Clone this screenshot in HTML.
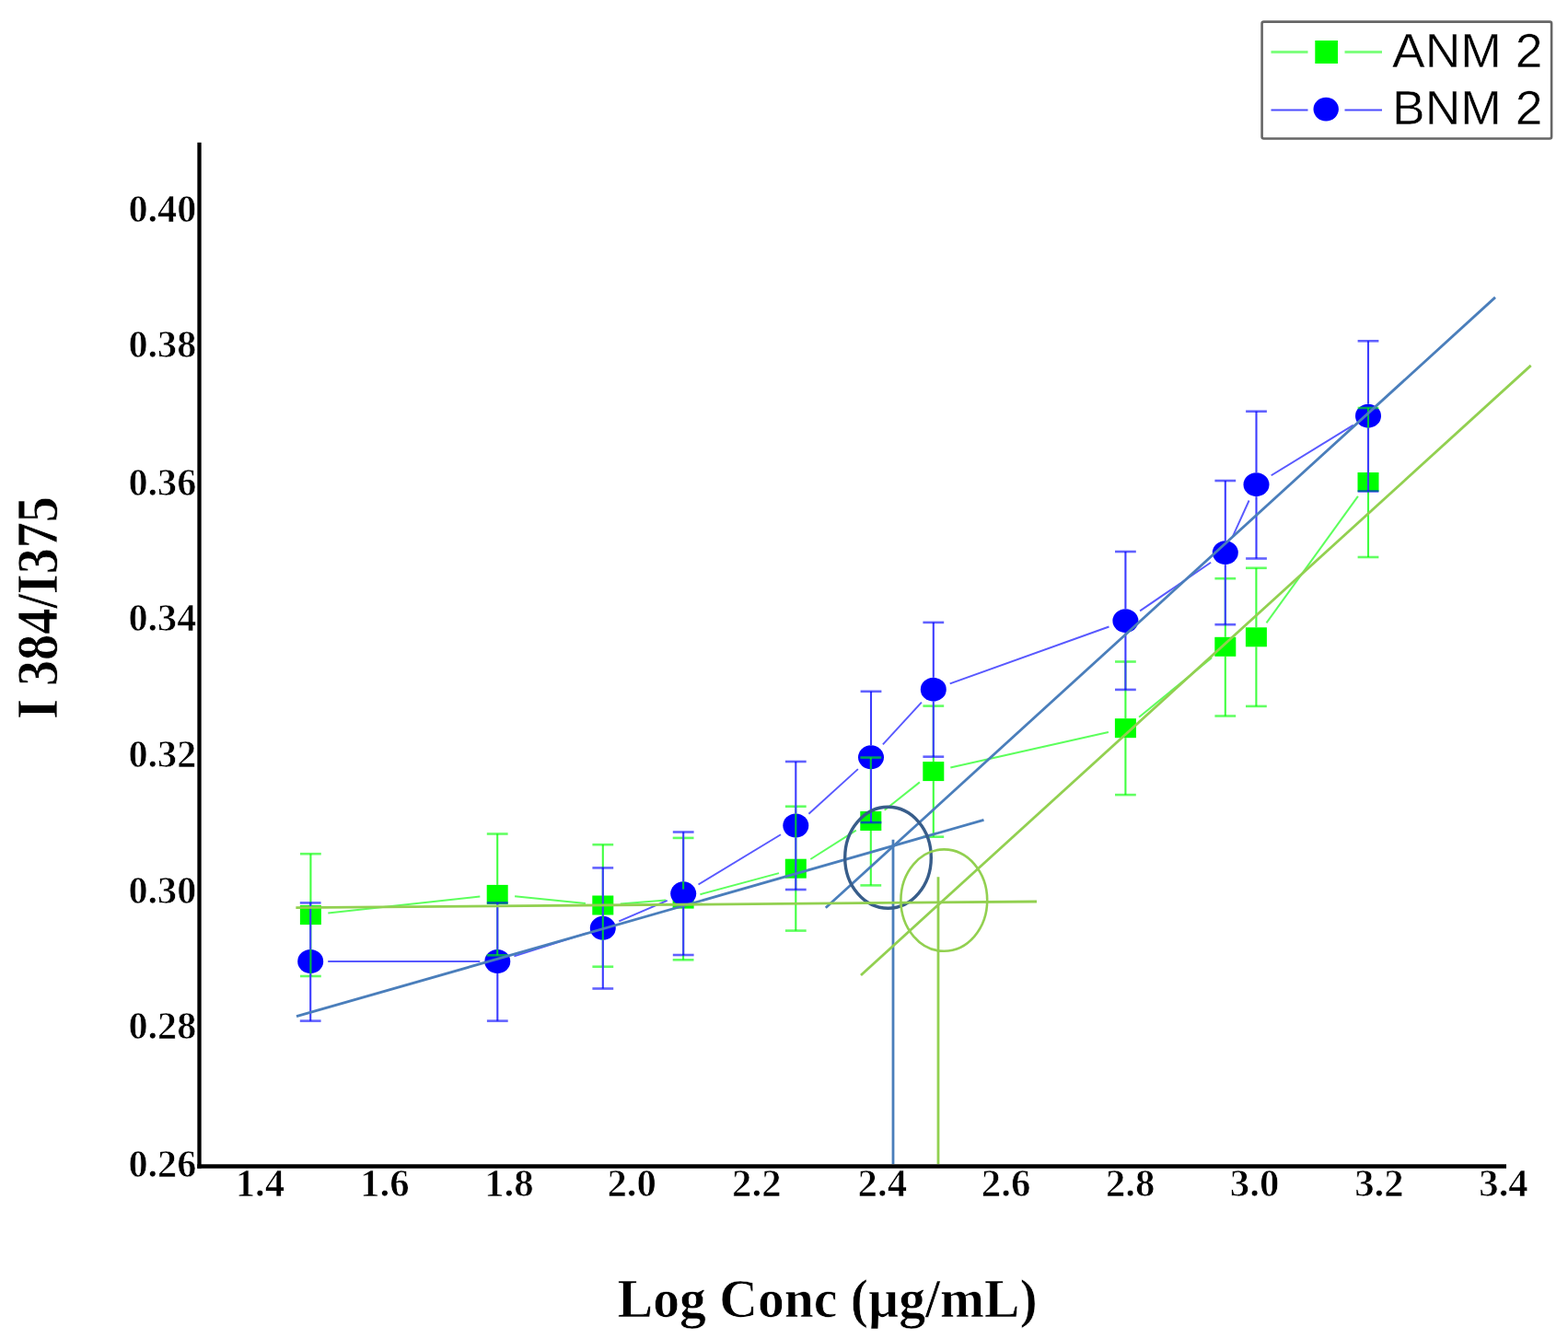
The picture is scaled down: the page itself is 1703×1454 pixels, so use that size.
<!DOCTYPE html>
<html><head><meta charset="utf-8"><title>Chart</title>
<style>html,body{margin:0;padding:0;background:#fff;}svg{display:block;}</style></head>
<body>
<svg width="1703" height="1454" viewBox="0 0 1703 1454">
<rect width="1703" height="1454" fill="#fff"/>
<line x1="356.3" y1="991.5" x2="521.3" y2="973.5" stroke="#5cff5c" stroke-opacity="1" stroke-width="2"/>
<line x1="559.1" y1="973.3" x2="635.9" y2="981.1" stroke="#5cff5c" stroke-opacity="1" stroke-width="2"/>
<line x1="673.7" y1="981.5" x2="723.2" y2="977.6" stroke="#5cff5c" stroke-opacity="1" stroke-width="2"/>
<line x1="760.4" y1="971.2" x2="846" y2="948.1" stroke="#5cff5c" stroke-opacity="1" stroke-width="2"/>
<line x1="880.3" y1="933" x2="929.8" y2="901.7" stroke="#5cff5c" stroke-opacity="1" stroke-width="2"/>
<line x1="960.7" y1="879.7" x2="998.9" y2="849.4" stroke="#5cff5c" stroke-opacity="1" stroke-width="2"/>
<line x1="1032.3" y1="833.4" x2="1203.9" y2="794.9" stroke="#5cff5c" stroke-opacity="1" stroke-width="2"/>
<line x1="1237.1" y1="778.7" x2="1316.1" y2="714.3" stroke="#5cff5c" stroke-opacity="1" stroke-width="2"/>
<line x1="1375.5" y1="676.4" x2="1474.9" y2="538.9" stroke="#5cff5c" stroke-opacity="1" stroke-width="2"/>
<line x1="356.2" y1="1044" x2="521.3" y2="1044" stroke="#5858ff" stroke-opacity="1" stroke-width="1.9"/>
<line x1="558.4" y1="1038.3" x2="636.7" y2="1013.5" stroke="#5858ff" stroke-opacity="1" stroke-width="1.9"/>
<line x1="672.3" y1="1000.3" x2="724.7" y2="977.8" stroke="#5858ff" stroke-opacity="1" stroke-width="1.9"/>
<line x1="758.5" y1="960.5" x2="848" y2="906.3" stroke="#5858ff" stroke-opacity="1" stroke-width="1.9"/>
<line x1="878.4" y1="883.7" x2="931.9" y2="835.1" stroke="#5858ff" stroke-opacity="1" stroke-width="1.9"/>
<line x1="958.9" y1="808.3" x2="1000.9" y2="762.7" stroke="#5858ff" stroke-opacity="1" stroke-width="1.9"/>
<line x1="1031.7" y1="742.3" x2="1204.5" y2="680.5" stroke="#5858ff" stroke-opacity="1" stroke-width="1.9"/>
<line x1="1238.1" y1="663.4" x2="1315.1" y2="610.8" stroke="#5858ff" stroke-opacity="1" stroke-width="1.9"/>
<line x1="1338.7" y1="582.8" x2="1356.6" y2="543.5" stroke="#5858ff" stroke-opacity="1" stroke-width="1.9"/>
<line x1="1380.7" y1="516.3" x2="1469.8" y2="461.6" stroke="#5858ff" stroke-opacity="1" stroke-width="1.9"/>
<rect x="325.9" y="983.1" width="23.0" height="21.0" fill="#00ff00"/>
<rect x="528.7" y="960.9" width="23.0" height="21.0" fill="#00ff00"/>
<rect x="643.3" y="972.5" width="23.0" height="21.0" fill="#00ff00"/>
<rect x="730.6" y="965.6" width="23.0" height="21.0" fill="#00ff00"/>
<rect x="852.8" y="932.7" width="23.0" height="21.0" fill="#00ff00"/>
<rect x="934.3" y="881" width="23.0" height="21.0" fill="#00ff00"/>
<rect x="1002.3" y="827.1" width="23.0" height="21.0" fill="#00ff00"/>
<rect x="1210.9" y="780.2" width="23.0" height="21.0" fill="#00ff00"/>
<rect x="1319.3" y="691.8" width="23.0" height="21.0" fill="#00ff00"/>
<rect x="1352.9" y="681.3" width="23.0" height="21.0" fill="#00ff00"/>
<rect x="1474.5" y="513" width="23.0" height="21.0" fill="#00ff00"/>
<ellipse cx="337.2" cy="1044" rx="14.0" ry="12.95" fill="#0000ff"/>
<ellipse cx="540.3" cy="1044" rx="14.0" ry="12.95" fill="#0000ff"/>
<ellipse cx="654.8" cy="1007.8" rx="14.0" ry="12.95" fill="#0000ff"/>
<ellipse cx="742.2" cy="970.3" rx="14.0" ry="12.95" fill="#0000ff"/>
<ellipse cx="864.3" cy="896.5" rx="14.0" ry="12.95" fill="#0000ff"/>
<ellipse cx="946" cy="822.3" rx="14.0" ry="12.95" fill="#0000ff"/>
<ellipse cx="1013.8" cy="748.7" rx="14.0" ry="12.95" fill="#0000ff"/>
<ellipse cx="1222.4" cy="674.1" rx="14.0" ry="12.95" fill="#0000ff"/>
<ellipse cx="1330.8" cy="600.1" rx="14.0" ry="12.95" fill="#0000ff"/>
<ellipse cx="1364.5" cy="526.2" rx="14.0" ry="12.95" fill="#0000ff"/>
<ellipse cx="1486" cy="451.7" rx="14.0" ry="12.95" fill="#0000ff"/>
<line x1="337.4" y1="927.2" x2="337.4" y2="983.1" stroke="#00ff00" stroke-opacity="0.75" stroke-width="2.1"/>
<line x1="337.4" y1="1004.1" x2="337.4" y2="1060" stroke="#00ff00" stroke-opacity="0.75" stroke-width="2.1"/>
<line x1="326" y1="927.2" x2="348.8" y2="927.2" stroke="#00ff00" stroke-opacity=".62" stroke-width="2.6"/>
<line x1="326" y1="1060" x2="348.8" y2="1060" stroke="#00ff00" stroke-opacity=".62" stroke-width="2.6"/>
<line x1="540.2" y1="905.5" x2="540.2" y2="960.9" stroke="#00ff00" stroke-opacity="0.75" stroke-width="2.1"/>
<line x1="540.2" y1="981.9" x2="540.2" y2="1037.3" stroke="#00ff00" stroke-opacity="0.75" stroke-width="2.1"/>
<line x1="528.8" y1="905.5" x2="551.6" y2="905.5" stroke="#00ff00" stroke-opacity=".62" stroke-width="2.6"/>
<line x1="528.8" y1="1037.3" x2="551.6" y2="1037.3" stroke="#00ff00" stroke-opacity=".62" stroke-width="2.6"/>
<line x1="654.8" y1="917.2" x2="654.8" y2="972.5" stroke="#00ff00" stroke-opacity="0.75" stroke-width="2.1"/>
<line x1="654.8" y1="993.5" x2="654.8" y2="1049.7" stroke="#00ff00" stroke-opacity="0.75" stroke-width="2.1"/>
<line x1="643.4" y1="917.2" x2="666.2" y2="917.2" stroke="#00ff00" stroke-opacity=".62" stroke-width="2.6"/>
<line x1="643.4" y1="1049.7" x2="666.2" y2="1049.7" stroke="#00ff00" stroke-opacity=".62" stroke-width="2.6"/>
<line x1="742.1" y1="909.9" x2="742.1" y2="965.6" stroke="#00ff00" stroke-opacity="0.75" stroke-width="2.1"/>
<line x1="742.1" y1="986.6" x2="742.1" y2="1042.3" stroke="#00ff00" stroke-opacity="0.75" stroke-width="2.1"/>
<line x1="730.7" y1="909.9" x2="753.5" y2="909.9" stroke="#00ff00" stroke-opacity=".62" stroke-width="2.6"/>
<line x1="730.7" y1="1042.3" x2="753.5" y2="1042.3" stroke="#00ff00" stroke-opacity=".62" stroke-width="2.6"/>
<line x1="864.3" y1="875.7" x2="864.3" y2="932.7" stroke="#00ff00" stroke-opacity="0.75" stroke-width="2.1"/>
<line x1="864.3" y1="953.7" x2="864.3" y2="1010.6" stroke="#00ff00" stroke-opacity="0.75" stroke-width="2.1"/>
<line x1="852.9" y1="875.7" x2="875.7" y2="875.7" stroke="#00ff00" stroke-opacity=".62" stroke-width="2.6"/>
<line x1="852.9" y1="1010.6" x2="875.7" y2="1010.6" stroke="#00ff00" stroke-opacity=".62" stroke-width="2.6"/>
<line x1="945.8" y1="822.6" x2="945.8" y2="881" stroke="#00ff00" stroke-opacity="0.75" stroke-width="2.1"/>
<line x1="945.8" y1="902" x2="945.8" y2="961.4" stroke="#00ff00" stroke-opacity="0.75" stroke-width="2.1"/>
<line x1="934.4" y1="822.6" x2="957.2" y2="822.6" stroke="#00ff00" stroke-opacity=".62" stroke-width="2.6"/>
<line x1="934.4" y1="961.4" x2="957.2" y2="961.4" stroke="#00ff00" stroke-opacity=".62" stroke-width="2.6"/>
<line x1="1013.8" y1="766.6" x2="1013.8" y2="827.1" stroke="#00ff00" stroke-opacity="0.75" stroke-width="2.1"/>
<line x1="1013.8" y1="848.1" x2="1013.8" y2="908.7" stroke="#00ff00" stroke-opacity="0.75" stroke-width="2.1"/>
<line x1="1002.4" y1="766.6" x2="1025.2" y2="766.6" stroke="#00ff00" stroke-opacity=".62" stroke-width="2.6"/>
<line x1="1002.4" y1="908.7" x2="1025.2" y2="908.7" stroke="#00ff00" stroke-opacity=".62" stroke-width="2.6"/>
<line x1="1222.4" y1="718.5" x2="1222.4" y2="780.2" stroke="#00ff00" stroke-opacity="0.75" stroke-width="2.1"/>
<line x1="1222.4" y1="801.2" x2="1222.4" y2="863.1" stroke="#00ff00" stroke-opacity="0.75" stroke-width="2.1"/>
<line x1="1211" y1="718.5" x2="1233.8" y2="718.5" stroke="#00ff00" stroke-opacity=".62" stroke-width="2.6"/>
<line x1="1211" y1="863.1" x2="1233.8" y2="863.1" stroke="#00ff00" stroke-opacity=".62" stroke-width="2.6"/>
<line x1="1330.8" y1="628.2" x2="1330.8" y2="691.8" stroke="#00ff00" stroke-opacity="0.75" stroke-width="2.1"/>
<line x1="1330.8" y1="712.8" x2="1330.8" y2="777.5" stroke="#00ff00" stroke-opacity="0.75" stroke-width="2.1"/>
<line x1="1319.4" y1="628.2" x2="1342.2" y2="628.2" stroke="#00ff00" stroke-opacity=".62" stroke-width="2.6"/>
<line x1="1319.4" y1="777.5" x2="1342.2" y2="777.5" stroke="#00ff00" stroke-opacity=".62" stroke-width="2.6"/>
<line x1="1364.4" y1="616.8" x2="1364.4" y2="681.3" stroke="#00ff00" stroke-opacity="0.75" stroke-width="2.1"/>
<line x1="1364.4" y1="702.3" x2="1364.4" y2="766.9" stroke="#00ff00" stroke-opacity="0.75" stroke-width="2.1"/>
<line x1="1353" y1="616.8" x2="1375.8" y2="616.8" stroke="#00ff00" stroke-opacity=".62" stroke-width="2.6"/>
<line x1="1353" y1="766.9" x2="1375.8" y2="766.9" stroke="#00ff00" stroke-opacity=".62" stroke-width="2.6"/>
<line x1="1486" y1="443" x2="1486" y2="513" stroke="#00ff00" stroke-opacity="0.75" stroke-width="2.1"/>
<line x1="1486" y1="534" x2="1486" y2="605" stroke="#00ff00" stroke-opacity="0.75" stroke-width="2.1"/>
<line x1="1474.6" y1="443" x2="1497.4" y2="443" stroke="#00ff00" stroke-opacity=".62" stroke-width="2.6"/>
<line x1="1474.6" y1="605" x2="1497.4" y2="605" stroke="#00ff00" stroke-opacity=".62" stroke-width="2.6"/>
<line x1="337.2" y1="980.4" x2="337.2" y2="1031" stroke="#3c3cff" stroke-opacity="1" stroke-width="2.1"/>
<line x1="337.2" y1="1057" x2="337.2" y2="1108.6" stroke="#3c3cff" stroke-opacity="1" stroke-width="2.1"/>
<line x1="325.8" y1="980.4" x2="348.6" y2="980.4" stroke="#0000ff" stroke-opacity=".62" stroke-width="2.6"/>
<line x1="325.8" y1="1108.6" x2="348.6" y2="1108.6" stroke="#0000ff" stroke-opacity=".62" stroke-width="2.6"/>
<line x1="540.3" y1="980.4" x2="540.3" y2="1031" stroke="#3c3cff" stroke-opacity="1" stroke-width="2.1"/>
<line x1="540.3" y1="1057" x2="540.3" y2="1108.6" stroke="#3c3cff" stroke-opacity="1" stroke-width="2.1"/>
<line x1="528.9" y1="980.4" x2="551.7" y2="980.4" stroke="#0000ff" stroke-opacity=".62" stroke-width="2.6"/>
<line x1="528.9" y1="1108.6" x2="551.7" y2="1108.6" stroke="#0000ff" stroke-opacity=".62" stroke-width="2.6"/>
<line x1="654.8" y1="942.4" x2="654.8" y2="994.8" stroke="#3c3cff" stroke-opacity="1" stroke-width="2.1"/>
<line x1="654.8" y1="1020.8" x2="654.8" y2="1073.5" stroke="#3c3cff" stroke-opacity="1" stroke-width="2.1"/>
<line x1="643.4" y1="942.4" x2="666.2" y2="942.4" stroke="#0000ff" stroke-opacity=".62" stroke-width="2.6"/>
<line x1="643.4" y1="1073.5" x2="666.2" y2="1073.5" stroke="#0000ff" stroke-opacity=".62" stroke-width="2.6"/>
<line x1="742.2" y1="903.5" x2="742.2" y2="957.3" stroke="#3c3cff" stroke-opacity="1" stroke-width="2.1"/>
<line x1="742.2" y1="983.2" x2="742.2" y2="1037" stroke="#3c3cff" stroke-opacity="1" stroke-width="2.1"/>
<line x1="730.8" y1="903.5" x2="753.6" y2="903.5" stroke="#0000ff" stroke-opacity=".62" stroke-width="2.6"/>
<line x1="730.8" y1="1037" x2="753.6" y2="1037" stroke="#0000ff" stroke-opacity=".62" stroke-width="2.6"/>
<line x1="864.3" y1="827" x2="864.3" y2="883.5" stroke="#3c3cff" stroke-opacity="1" stroke-width="2.1"/>
<line x1="864.3" y1="909.5" x2="864.3" y2="966" stroke="#3c3cff" stroke-opacity="1" stroke-width="2.1"/>
<line x1="852.9" y1="827" x2="875.7" y2="827" stroke="#0000ff" stroke-opacity=".62" stroke-width="2.6"/>
<line x1="852.9" y1="966" x2="875.7" y2="966" stroke="#0000ff" stroke-opacity=".62" stroke-width="2.6"/>
<line x1="946" y1="750.8" x2="946" y2="809.3" stroke="#3c3cff" stroke-opacity="1" stroke-width="2.1"/>
<line x1="946" y1="835.2" x2="946" y2="893.1" stroke="#3c3cff" stroke-opacity="1" stroke-width="2.1"/>
<line x1="934.6" y1="750.8" x2="957.4" y2="750.8" stroke="#0000ff" stroke-opacity=".62" stroke-width="2.6"/>
<line x1="934.6" y1="893.1" x2="957.4" y2="893.1" stroke="#0000ff" stroke-opacity=".62" stroke-width="2.6"/>
<line x1="1013.8" y1="675.9" x2="1013.8" y2="735.8" stroke="#3c3cff" stroke-opacity="1" stroke-width="2.1"/>
<line x1="1013.8" y1="761.7" x2="1013.8" y2="821.7" stroke="#3c3cff" stroke-opacity="1" stroke-width="2.1"/>
<line x1="1002.4" y1="675.9" x2="1025.2" y2="675.9" stroke="#0000ff" stroke-opacity=".62" stroke-width="2.6"/>
<line x1="1002.4" y1="821.7" x2="1025.2" y2="821.7" stroke="#0000ff" stroke-opacity=".62" stroke-width="2.6"/>
<line x1="1222.4" y1="599" x2="1222.4" y2="661.1" stroke="#3c3cff" stroke-opacity="1" stroke-width="2.1"/>
<line x1="1222.4" y1="687.1" x2="1222.4" y2="748.9" stroke="#3c3cff" stroke-opacity="1" stroke-width="2.1"/>
<line x1="1211" y1="599" x2="1233.8" y2="599" stroke="#0000ff" stroke-opacity=".62" stroke-width="2.6"/>
<line x1="1211" y1="748.9" x2="1233.8" y2="748.9" stroke="#0000ff" stroke-opacity=".62" stroke-width="2.6"/>
<line x1="1330.8" y1="522" x2="1330.8" y2="587.1" stroke="#3c3cff" stroke-opacity="1" stroke-width="2.1"/>
<line x1="1330.8" y1="613.1" x2="1330.8" y2="678.2" stroke="#3c3cff" stroke-opacity="1" stroke-width="2.1"/>
<line x1="1319.4" y1="522" x2="1342.2" y2="522" stroke="#0000ff" stroke-opacity=".62" stroke-width="2.6"/>
<line x1="1319.4" y1="678.2" x2="1342.2" y2="678.2" stroke="#0000ff" stroke-opacity=".62" stroke-width="2.6"/>
<line x1="1364.5" y1="446.7" x2="1364.5" y2="513.2" stroke="#3c3cff" stroke-opacity="1" stroke-width="2.1"/>
<line x1="1364.5" y1="539.2" x2="1364.5" y2="606.5" stroke="#3c3cff" stroke-opacity="1" stroke-width="2.1"/>
<line x1="1353.1" y1="446.7" x2="1375.9" y2="446.7" stroke="#0000ff" stroke-opacity=".62" stroke-width="2.6"/>
<line x1="1353.1" y1="606.5" x2="1375.9" y2="606.5" stroke="#0000ff" stroke-opacity=".62" stroke-width="2.6"/>
<line x1="1486" y1="370.3" x2="1486" y2="438.8" stroke="#3c3cff" stroke-opacity="1" stroke-width="2.1"/>
<line x1="1486" y1="464.6" x2="1486" y2="533.5" stroke="#3c3cff" stroke-opacity="1" stroke-width="2.1"/>
<line x1="1474.6" y1="370.3" x2="1497.4" y2="370.3" stroke="#0000ff" stroke-opacity=".62" stroke-width="2.6"/>
<line x1="1474.6" y1="533.5" x2="1497.4" y2="533.5" stroke="#0000ff" stroke-opacity=".62" stroke-width="2.6"/>
<g fill="none" stroke-linecap="butt">
<line x1="322" y1="1103.7" x2="1068.5" y2="890.4" stroke="#4a7ebb" stroke-width="2.8"/>
<line x1="896.8" y1="985.8" x2="1624" y2="322.9" stroke="#4a7ebb" stroke-width="2.8"/>
<line x1="970" y1="911.8" x2="970" y2="1264" stroke="#4a7ebb" stroke-width="2.8"/>
<ellipse cx="964.5" cy="931.3" rx="46.8" ry="55" stroke="#385d8a" stroke-width="3.4"/>
<line x1="321.4" y1="985.7" x2="1126" y2="979" stroke="#92d050" stroke-width="2.8"/>
<line x1="935" y1="1059" x2="1662.7" y2="396.9" stroke="#92d050" stroke-width="2.8"/>
<line x1="1019" y1="952.2" x2="1019" y2="1264" stroke="#92d050" stroke-width="2.8"/>
<ellipse cx="1025.3" cy="977.6" rx="46.9" ry="55.2" stroke="#92d050" stroke-width="2.6"/>
</g>
<g font-family="'Liberation Serif', serif" font-weight="bold" font-size="42" fill="#000" stroke="#fff" stroke-width="0.7">
<text transform="translate(213.3,241) scale(1.005,1)" text-anchor="end">0.40</text>
<text transform="translate(213.3,388.4) scale(1.005,1)" text-anchor="end">0.38</text>
<text transform="translate(213.3,537.9) scale(1.005,1)" text-anchor="end">0.36</text>
<text transform="translate(213.3,685.3) scale(1.005,1)" text-anchor="end">0.34</text>
<text transform="translate(213.3,833.4) scale(1.005,1)" text-anchor="end">0.32</text>
<text transform="translate(213.3,980.8) scale(1.005,1)" text-anchor="end">0.30</text>
<text transform="translate(213.3,1128.2) scale(1.005,1)" text-anchor="end">0.28</text>
<text transform="translate(213.3,1277.9) scale(1.005,1)" text-anchor="end">0.26</text>
<text transform="translate(282.4,1298.5) scale(1.02,1)" text-anchor="middle">1.4</text>
<text transform="translate(417.8,1298.5) scale(1.02,1)" text-anchor="middle">1.6</text>
<text transform="translate(552.9,1298.5) scale(1.02,1)" text-anchor="middle">1.8</text>
<text transform="translate(686.2,1298.5) scale(1.02,1)" text-anchor="middle">2.0</text>
<text transform="translate(821.8,1298.5) scale(1.02,1)" text-anchor="middle">2.2</text>
<text transform="translate(958.3,1298.5) scale(1.02,1)" text-anchor="middle">2.4</text>
<text transform="translate(1092.6,1298.5) scale(1.02,1)" text-anchor="middle">2.6</text>
<text transform="translate(1227.7,1298.5) scale(1.02,1)" text-anchor="middle">2.8</text>
<text transform="translate(1362.6,1298.5) scale(1.02,1)" text-anchor="middle">3.0</text>
<text transform="translate(1497.9,1298.5) scale(1.02,1)" text-anchor="middle">3.2</text>
<text transform="translate(1633,1298.5) scale(1.02,1)" text-anchor="middle">3.4</text>
</g>
<line x1="216.5" y1="154.7" x2="216.5" y2="1268.8" stroke="#000" stroke-width="4.3"/>
<line x1="214.3" y1="1266.4" x2="1636" y2="1266.4" stroke="#000" stroke-width="4.5"/>
<text transform="translate(898.7,1430) scale(0.964,1)" text-anchor="middle" font-family="'Liberation Serif', serif" font-weight="bold" font-size="59.8" stroke="#fff" stroke-width="0.7">Log Conc (µg/mL)</text>
<text transform="translate(62.2,660) rotate(-90) scale(0.90,1)" text-anchor="middle" font-family="'Liberation Serif', serif" font-weight="bold" font-size="62.4" stroke="#fff" stroke-width="0.7">I 384/I375</text>
<rect x="1370.6" y="23.6" width="314.5" height="126.9" rx="2" fill="#fff" stroke="#666" stroke-width="2.6"/>
<line x1="1380.5" y1="56.5" x2="1420.5" y2="56.5" stroke="#00ff00" stroke-opacity=".5" stroke-width="3"/>
<line x1="1460.5" y1="56.5" x2="1501" y2="56.5" stroke="#00ff00" stroke-opacity=".5" stroke-width="3"/>
<rect x="1428.3" y="44" width="24.7" height="25" fill="#00ff00"/>
<line x1="1380.5" y1="119.5" x2="1420.5" y2="119.5" stroke="#0000ff" stroke-opacity=".7" stroke-width="2"/>
<line x1="1460.5" y1="119.5" x2="1501" y2="119.5" stroke="#0000ff" stroke-opacity=".7" stroke-width="2"/>
<ellipse cx="1440.2" cy="118.6" rx="13.7" ry="12.9" fill="#0000ff"/>
<g font-family="'Liberation Sans', sans-serif" font-size="51.8" fill="#000" stroke="#fff" stroke-width="0.5">
<text transform="translate(1675.5,73.0) scale(1.033,1)" text-anchor="end">ANM 2</text>
<text transform="translate(1675.5,135.3) scale(1.033,1)" text-anchor="end">BNM 2</text>
</g>
</svg>
</body></html>
